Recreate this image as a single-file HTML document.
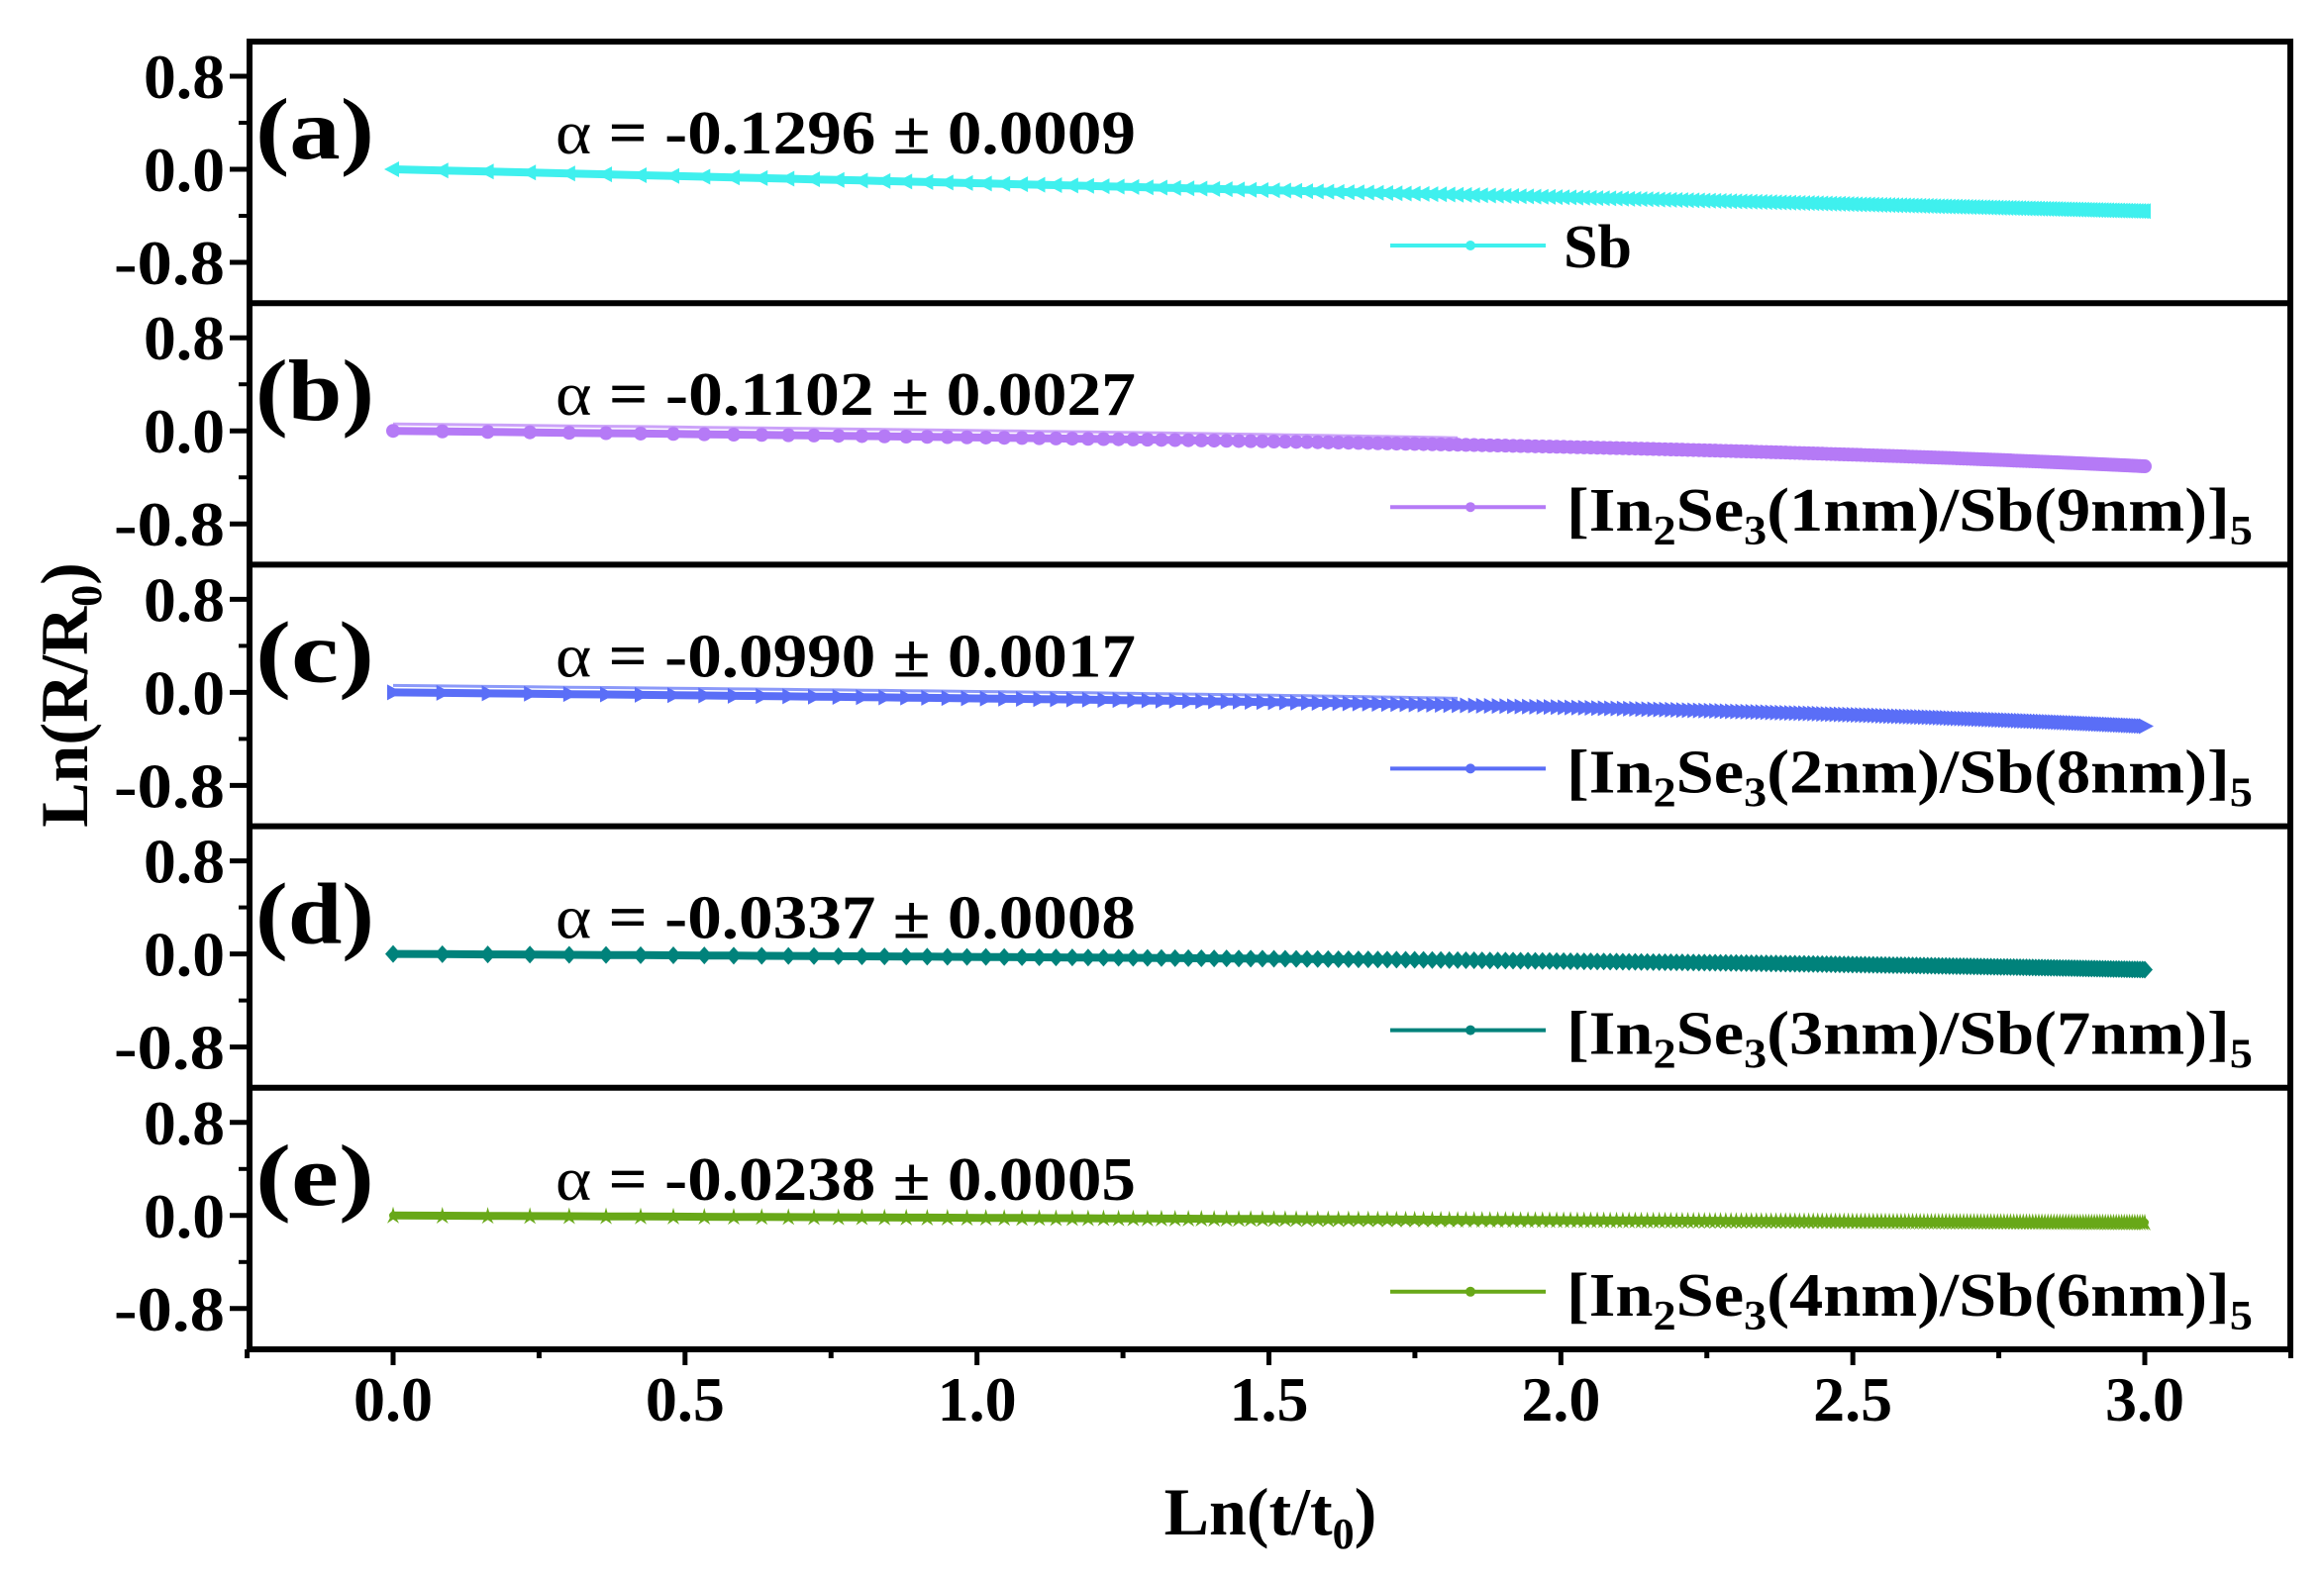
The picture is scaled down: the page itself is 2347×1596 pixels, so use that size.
<!DOCTYPE html>
<html><head><meta charset="utf-8"><style>
html,body{margin:0;padding:0;background:#fff;}
svg{display:block;}
text{font-family:"Liberation Serif","Times New Roman","Noto Serif CJK SC",serif;font-weight:bold;}
</style></head><body>
<svg id="s" width="2347" height="1596" viewBox="0 0 2347 1596" xmlns="http://www.w3.org/2000/svg" font-family="Liberation Serif, serif" font-weight="bold">
<rect width="2347" height="1596" fill="#fff"/>
<g id="g"></g>
<text x="0" y="0" font-size="68" text-anchor="middle" transform="translate(88,702) rotate(-90)">Ln(R/R<tspan font-size="44" dy="14">0</tspan><tspan dy="-14">)</tspan></text>
<text x="1283" y="1550" font-size="68" text-anchor="middle">Ln(t/t<tspan font-size="44" dy="14">0</tspan><tspan dy="-14">)</tspan></text>
</svg>
<script>
const g=document.getElementById('g');let h='';
const L=252,R=2313,T=42,B=1363,ph=(B-T)/5;
const X=v=>397+v*(2166-397)/3;
const ppu=94/0.8;
const P=[
{c:'#3ff0ee',lab:'(a)',al:'α = -0.1296 ± 0.0009',leg:'Sb',f:x=>-0.12*x,m:'lt'},
{c:'#b57af6',lab:'(b)',al:'α = -0.1102 ± 0.0027',leg:['1','9'],f:x=>-0.055*x-0.14*Math.pow(x/3,4),m:'ci'},
{c:'#5a6ef7',lab:'(c)',al:'α = -0.0990 ± 0.0017',leg:['2','8'],f:x=>-0.05*x-0.14*Math.pow(x/3,4),m:'rt'},
{c:'#00827b',lab:'(d)',al:'α = -0.0337 ± 0.0008',leg:['3','7'],f:x=>-0.025*x-0.06*Math.pow(x/3,4),m:'di'},
{c:'#68a818',lab:'(e)',al:'α = -0.0238 ± 0.0005',leg:['4','6'],f:x=>-0.02*x,m:'st'}];
P.forEach((p,i)=>{
 const top=T+ph*i, y0=top+129;
 const Y=v=>y0-v*ppu;
 [0.8,0,-0.8].forEach(v=>{h+=`<line x1="232" x2="${L}" y1="${Y(v)}" y2="${Y(v)}" stroke="#000" stroke-width="5"/>`;
  h+=`<text x="227" y="${Y(v)+22}" font-size="64" text-anchor="end" textLength="${v<0?112:82}" lengthAdjust="spacingAndGlyphs">${v==0?'0.0':v.toFixed(1)}</text>`;});
 [0.4,-0.4].forEach(v=>{h+=`<line x1="241" x2="${L}" y1="${Y(v)}" y2="${Y(v)}" stroke="#000" stroke-width="4"/>`;});
 let pts=[],mk='';
 for(let k=0;;k++){const t=1+0.088*k;const x=Math.log(t);if(x>3)break;pts.push([X(x),Y(p.f(x))]);}
 pts.push([X(3),Y(p.f(3))]);
 h+=`<polyline points="${pts.map(q=>q[0].toFixed(1)+','+q[1].toFixed(1)).join(' ')}" fill="none" stroke="${p.c}" stroke-width="8" stroke-linejoin="round" stroke-linecap="round"/>`;
 if(i==1||i==2){h+=`<polyline points="${pts.slice(0,60).map(q=>q[0].toFixed(1)+','+(q[1]-7).toFixed(1)).join(' ')}" fill="none" stroke="${p.c}" stroke-width="3" opacity="0.7"/>`;}
 pts.forEach(([x,y])=>{
  if(p.m=='ci')mk+=`<circle cx="${x}" cy="${y}" r="7"/>`;
  else if(p.m=='di')mk+=`<path d="M${x} ${y-9}L${x+8} ${y}L${x} ${y+9}L${x-8} ${y}Z"/>`;
  else if(p.m=='lt')mk+=`<path d="M${x-9} ${y}L${x+6} ${y-8}L${x+6} ${y+8}Z"/>`;
  else if(p.m=='rt')mk+=`<path d="M${x+9} ${y}L${x-6} ${y-8}L${x-6} ${y+8}Z"/>`;
  else mk+=`<path d="M${x} ${y-9}L${x+3} ${y+2}L${x+6} ${y+8}L${x} ${y+4}L${x-6} ${y+8}L${x-3} ${y+2}Z"/>`;
 });
 h+=`<g fill="${p.c}">${mk}</g>`;
 h+=`<text x="258" y="${top+118}" font-size="88" textLength="120" lengthAdjust="spacingAndGlyphs">${p.lab}</text>`;
 h+=`<text x="561" y="${top+113}" font-size="62" textLength="586" lengthAdjust="spacingAndGlyphs"><tspan font-weight="normal">α</tspan> = -${p.al.slice(5)}</text>`;
 const ly=top+206;
 h+=`<line x1="1404" x2="1561" y1="${ly}" y2="${ly}" stroke="${p.c}" stroke-width="4"/>`;
 h+=`<circle cx="1485" cy="${ly}" r="5" fill="${p.c}"/>`;
 if(typeof p.leg=='string') h+=`<text x="1579" y="${ly+22}" font-size="62">Sb</text>`;
 else h+=`<text x="1582" y="${ly+24}" font-size="62" textLength="693" lengthAdjust="spacingAndGlyphs">[In<tspan font-size="42" dy="14">2</tspan><tspan dy="-14">Se</tspan><tspan font-size="42" dy="14">3</tspan><tspan dy="-14">(${p.leg[0]}nm)/Sb(${p.leg[1]}nm)]</tspan><tspan font-size="42" dy="14">5</tspan></text>`;
 h+=`<line x1="${L}" x2="${R}" y1="${top}" y2="${top}" stroke="#000" stroke-width="6"/>`;
});
h+=`<line x1="${L}" x2="${R}" y1="${B}" y2="${B}" stroke="#000" stroke-width="6"/>`;
h+=`<line x1="${L}" x2="${L}" y1="${T-3}" y2="${B+3}" stroke="#000" stroke-width="6"/>`;
h+=`<line x1="${R}" x2="${R}" y1="${T-3}" y2="${B+3}" stroke="#000" stroke-width="6"/>`;
for(let v=-0.25;v<=3.26;v+=0.25){const x=X(v);const maj=Math.abs(v*2-Math.round(v*2))<1e-6;
 h+=`<line x1="${x}" x2="${x}" y1="${B}" y2="${B+(maj?16:9)}" stroke="#000" stroke-width="5"/>`;
 if(maj&&v>=0&&v<=3)h+=`<text x="${x}" y="1435" font-size="64" text-anchor="middle">${v.toFixed(1)}</text>`;}
g.innerHTML=h;
</script>
</body></html>
